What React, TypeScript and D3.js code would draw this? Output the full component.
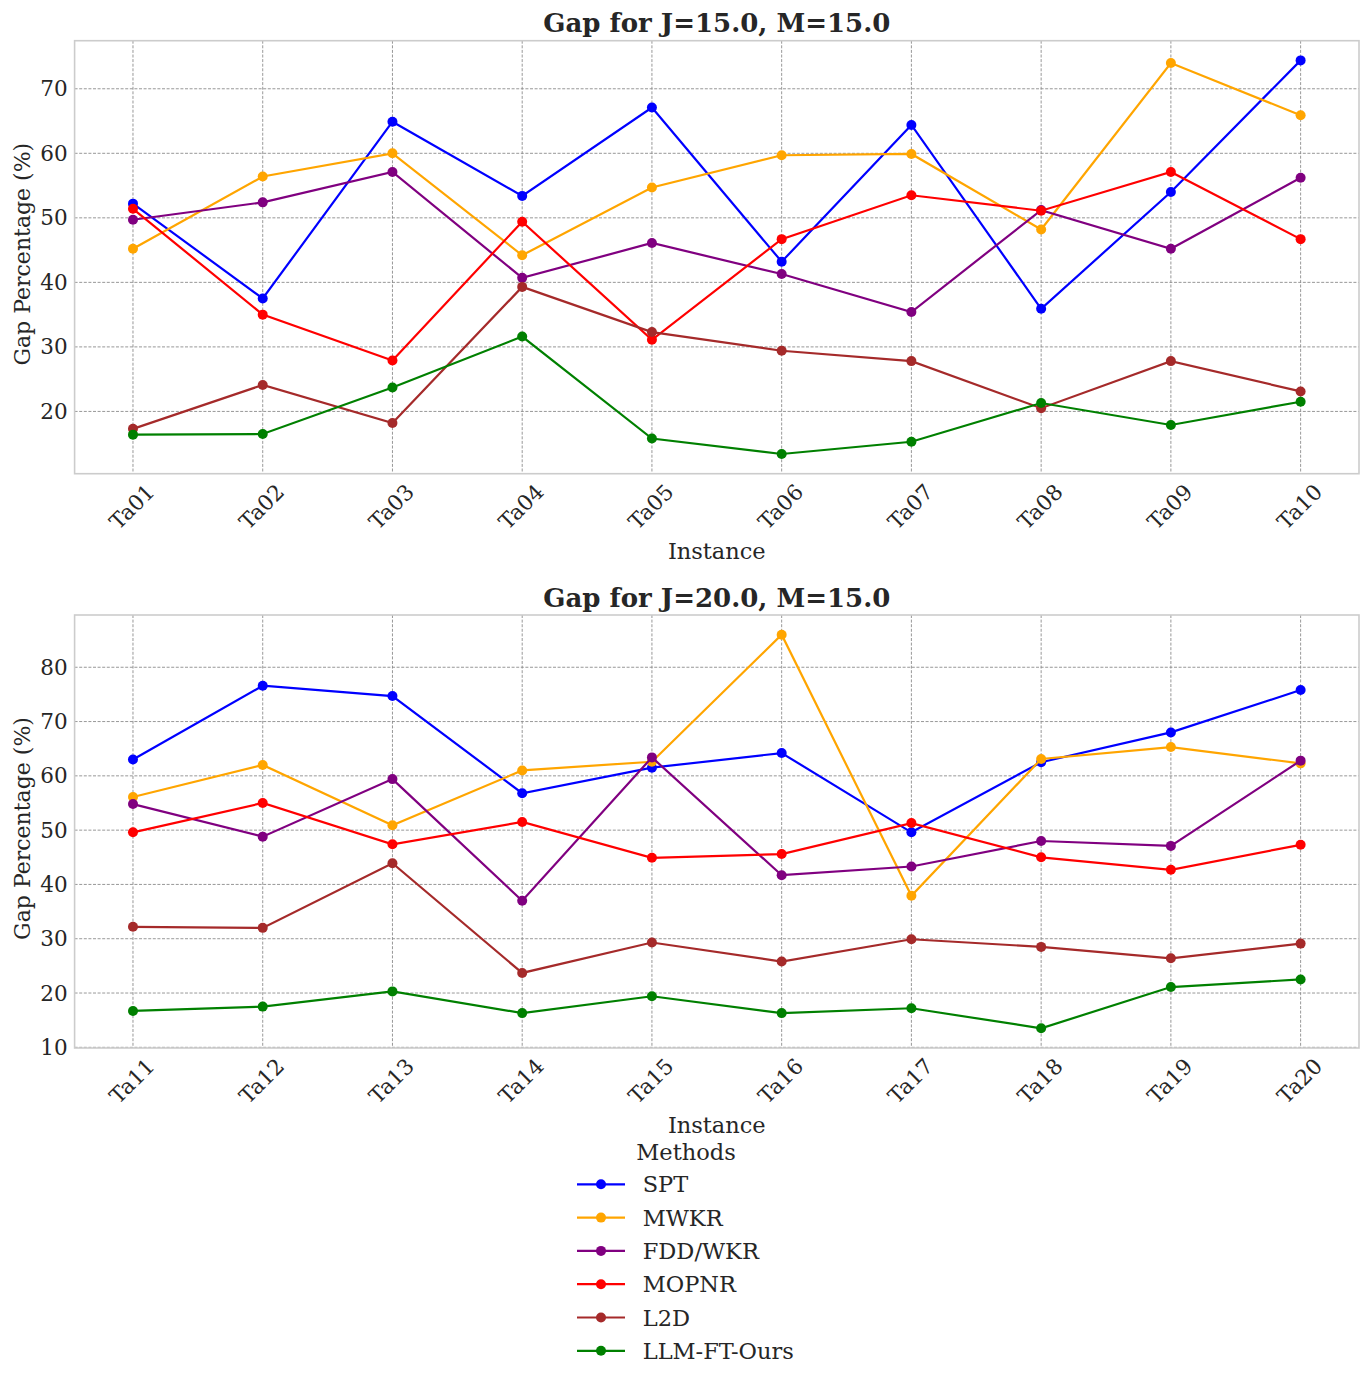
import React from "react";
import * as d3 from "d3";

const methods = ["SPT", "MWKR", "FDD/WKR", "MOPNR", "L2D", "LLM-FT-Ours"];
const colors = ["#0000ff", "#ffa500", "#800080", "#ff0000", "#a52a2a", "#008000"];

const instancesTop = ["Ta01", "Ta02", "Ta03", "Ta04", "Ta05", "Ta06", "Ta07", "Ta08", "Ta09", "Ta10"];
const instancesBottom = ["Ta11", "Ta12", "Ta13", "Ta14", "Ta15", "Ta16", "Ta17", "Ta18", "Ta19", "Ta20"];

const sptTop = [52.2, 37.5, 64.9, 53.4, 67.1, 43.2, 64.4, 35.9, 54.0, 74.4];
const mwkrTop = [45.2, 56.4, 60.0, 44.2, 54.7, 59.7, 59.9, 48.2, 74.0, 65.9];
const fddTop = [49.7, 52.4, 57.1, 40.7, 46.1, 41.3, 35.4, 51.2, 45.2, 56.2];
const mopnrTop = [51.4, 35.0, 27.9, 49.4, 31.1, 46.7, 53.5, 51.1, 57.1, 46.7];
const l2dTop = [17.3, 24.1, 18.2, 39.3, 32.3, 29.4, 27.8, 20.5, 27.8, 23.1];
const llmTop = [16.4, 16.5, 23.7, 31.6, 15.8, 13.4, 15.3, 21.3, 17.9, 21.5];

const sptBottom = [63.0, 76.6, 74.7, 56.8, 61.5, 64.2, 49.6, 62.5, 68.0, 75.8];
const mwkrBottom = [56.1, 62.0, 50.9, 61.0, 62.6, 86.0, 37.9, 63.1, 65.3, 62.3];
const fddBottom = [54.8, 48.8, 59.4, 37.0, 63.4, 41.7, 43.3, 48.0, 47.1, 62.8];
const mopnrBottom = [49.6, 55.0, 47.4, 51.5, 44.9, 45.6, 51.3, 45.0, 42.7, 47.3];
const l2dBottom = [32.2, 32.0, 43.9, 23.7, 29.3, 25.8, 29.9, 28.5, 26.4, 29.1];
const llmBottom = [16.7, 17.5, 20.3, 16.3, 19.4, 16.3, 17.2, 13.5, 21.1, 22.5];

const seriesTop = [sptTop, mwkrTop, fddTop, mopnrTop, l2dTop, llmTop];
const seriesBottom = [sptBottom, mwkrBottom, fddBottom, mopnrBottom, l2dBottom, llmBottom];

const titles = ["Gap for J=15.0, M=15.0", "Gap for J=20.0, M=15.0"];

const FONT = "'DejaVu Serif', serif";
const TEXT = "#262626";

const W = 1372;
const H = 1384;
const axLeft = 74.6;
const axRight = 1359;
const panelTops = [40.7, 615];
const panelH = 433;

function Panel({ top, cats, series, title }: { top: number; cats: string[]; series: number[][]; title: string }) {
  const bottom = top + panelH;
  const x = d3.scaleLinear().domain([-0.45, cats.length - 1 + 0.45]).range([axLeft, axRight]);
  const all = series.flat();
  const mn = d3.min(all)!;
  const mx = d3.max(all)!;
  const pad = (mx - mn) * 0.05;
  const y = d3.scaleLinear().domain([mn - pad, mx + pad]).range([bottom, top]);
  const ticks = d3.range(Math.ceil((mn - pad) / 10) * 10, mx + pad, 10);
  const line = d3
    .line<number>()
    .x((_, i) => x(i))
    .y((d) => y(d));
  const cx = (axLeft + axRight) / 2;
  return (
    <g>
      {ticks.map((t) => (
        <g key={"y" + t}>
          <line x1={axLeft} x2={axRight} y1={y(t)} y2={y(t)} stroke="#8c8c8c" strokeWidth={0.9} strokeDasharray="3,1.6" />
          <text x={axLeft - 7} y={y(t)} textAnchor="end" dominantBaseline="central" fontSize={21.5} fontFamily={FONT} fill={TEXT}>
            {t}
          </text>
        </g>
      ))}
      {cats.map((c, i) => (
        <g key={"x" + c}>
          <line x1={x(i)} x2={x(i)} y1={top} y2={bottom} stroke="#8c8c8c" strokeWidth={0.9} strokeDasharray="3,1.6" />
          <text
            transform={`translate(${x(i) - 1},${bottom + 33}) rotate(-45)`}
            textAnchor="middle"
            dominantBaseline="central"
            fontSize={21.5}
            fontFamily={FONT}
            fill={TEXT}
          >
            {c}
          </text>
        </g>
      ))}
      <rect x={axLeft} y={top} width={axRight - axLeft} height={panelH} fill="none" stroke="#cccccc" strokeWidth={1.6} />
      {series.map((s, k) => (
        <g key={"s" + k}>
          <path d={line(s)!} fill="none" stroke={colors[k]} strokeWidth={2.2} />
          {s.map((v, i) => (
            <circle key={i} cx={x(i)} cy={y(v)} r={5} fill={colors[k]} />
          ))}
        </g>
      ))}
      <text x={cx} y={top - 8.5} textAnchor="middle" fontSize={26} fontWeight="bold" fontFamily={FONT} fill={TEXT}>
        {title}
      </text>
      <text x={cx} y={bottom + 85} textAnchor="middle" fontSize={22.5} fontFamily={FONT} fill={TEXT}>
        Instance
      </text>
      <text
        transform={`translate(${22},${(top + bottom) / 2 - 3})  rotate(-90)`}
        textAnchor="middle"
        dominantBaseline="central"
        fontSize={22}
        fontFamily={FONT}
        fill={TEXT}
      >
        Gap Percentage (%)
      </text>
    </g>
  );
}

export default function App() {
  const legX = 577;
  const legY0 = 1184.3;
  const legStep = 33.3;
  return (
    <svg width={W} height={H} viewBox={`0 0 ${W} ${H}`} style={{ display: "block", margin: "-8px", background: "#fff" }}>
      <rect x={0} y={0} width={W} height={H} fill="#fff" />
      <Panel top={panelTops[0]} cats={instancesTop} series={seriesTop} title={titles[0]} />
      <Panel top={panelTops[1]} cats={instancesBottom} series={seriesBottom} title={titles[1]} />
      <text x={686} y={1160} textAnchor="middle" fontSize={22.5} fontFamily={FONT} fill={TEXT}>
        Methods
      </text>
      {methods.map((m, k) => {
        const yy = legY0 + k * legStep;
        return (
          <g key={m}>
            <line x1={legX} x2={legX + 48} y1={yy} y2={yy} stroke={colors[k]} strokeWidth={2.2} />
            <circle cx={legX + 24} cy={yy} r={5} fill={colors[k]} />
            <text x={642.7} y={yy} dominantBaseline="central" fontSize={22.5} fontFamily={FONT} fill={TEXT}>
              {m}
            </text>
          </g>
        );
      })}
    </svg>
  );
}
